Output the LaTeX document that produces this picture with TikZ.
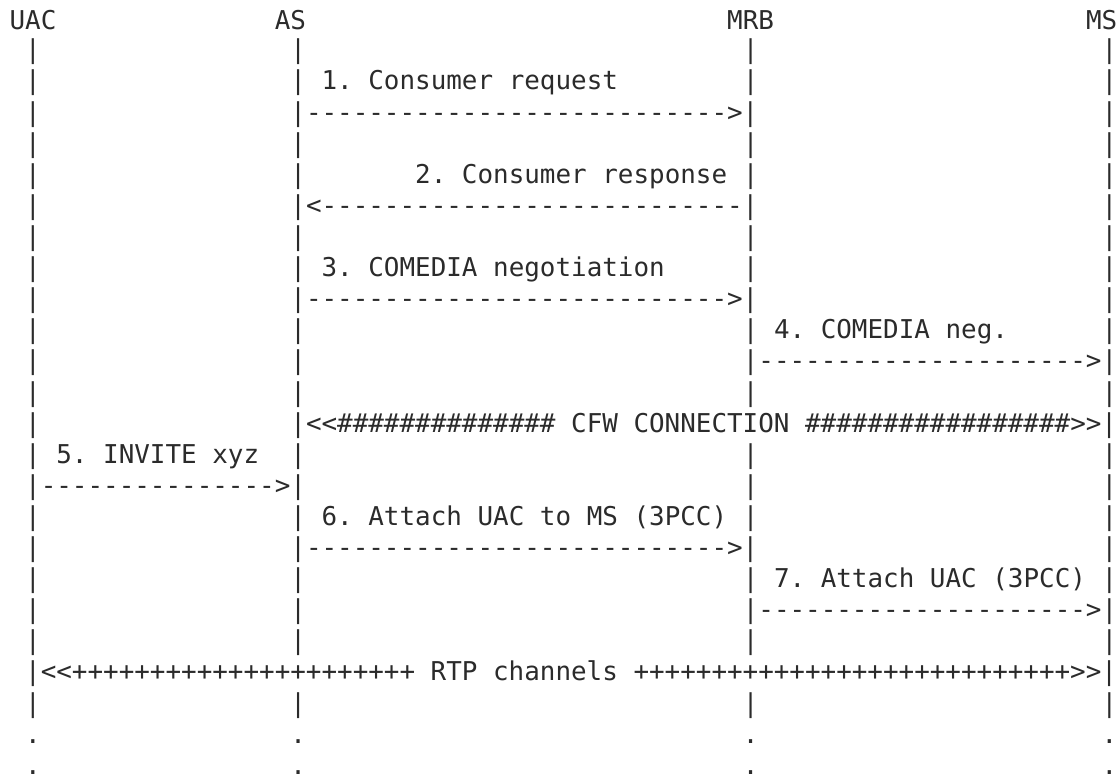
\documentclass[tikz,border=0pt]{standalone}
\usepackage{fontspec}
\setmonofont{DejaVu Sans Mono}
\definecolor{ink}{HTML}{2B2B2B}

% character grid: cell width, left margin, baselines
\newcommand\cellw{15.6}
\newcommand\leftx{9.6}
\newcounter{piece}
\newcommand\reps[2]{\foreach \k in {1,...,#1}{#2}}
% place text #3 on row #1 starting at column #2
\newcommand\glyphs[3]{%
  \stepcounter{piece}%
  \pgfmathsetmacro\gx{\leftx+#2*\cellw}%
  \pgfmathsetmacro\gy{(#1==0)*30+(#1>0)*(90+(#1-2)*31.1)}%
  \edef\placepiece{\noexpand\node[txt] (p\arabic{piece}) at (\gx,\gy)}%
  \placepiece{#3};}
% lifeline bars on row #1 at the listed columns
\newcommand\bars[2]{\foreach \c in {#2}{\glyphs{#1}{\c}{|}}}
\newcommand\contdots[2]{\foreach \c in {#2}{\glyphs{#1}{\c}{.}}}

\begin{document}
\begin{tikzpicture}[x=1pt,y=-1pt,
  txt/.style={anchor=base west,inner sep=0pt,outer sep=0pt,
    font=\ttfamily\fontsize{25.91}{31}\selectfont,text=ink}]
\useasboundingbox (0,0) rectangle (1120,776);

% participants
\glyphs{0}{0}{UAC}
\glyphs{0}{17}{AS}
\glyphs{0}{46}{MRB}
\glyphs{0}{69}{MS}

\bars{1}{1,18,47,70}
% 1. AS -> MRB
\bars{2}{1,18,47,70}
\glyphs{2}{20}{1. Consumer request}
\bars{3}{1,70}
\glyphs{3}{18}{|\reps{27}{-}>|}
\bars{4}{1,18,47,70}
% 2. MRB -> AS
\bars{5}{1,18,47,70}
\glyphs{5}{26}{2. Consumer response}
\bars{6}{1,70}
\glyphs{6}{18}{|<\reps{27}{-}|}
\bars{7}{1,18,47,70}
% 3. AS -> MRB
\bars{8}{1,18,47,70}
\glyphs{8}{20}{3. COMEDIA negotiation}
\bars{9}{1,70}
\glyphs{9}{18}{|\reps{27}{-}>|}
% 4. MRB -> MS
\bars{10}{1,18,47,70}
\glyphs{10}{49}{4. COMEDIA neg.}
\bars{11}{1,18}
\glyphs{11}{47}{|\reps{21}{-}>|}
\bars{12}{1,18,47,70}
% control framework channel AS <-> MS
\bars{13}{1}
\glyphs{13}{18}{|<<\reps{14}{\#} CFW CONNECTION \reps{17}{\#}>>|}
% 5. UAC -> AS
\bars{14}{1,18,47,70}
\glyphs{14}{3}{5. INVITE xyz}
\bars{15}{47,70}
\glyphs{15}{1}{|\reps{15}{-}>|}
% 6. AS -> MRB
\bars{16}{1,18,47,70}
\glyphs{16}{20}{6. Attach UAC to MS (3PCC)}
\bars{17}{1,70}
\glyphs{17}{18}{|\reps{27}{-}>|}
% 7. MRB -> MS
\bars{18}{1,18,47,70}
\glyphs{18}{49}{7. Attach UAC (3PCC)}
\bars{19}{1,18}
\glyphs{19}{47}{|\reps{21}{-}>|}
\bars{20}{1,18,47,70}
% media path UAC <-> MS
\glyphs{21}{1}{|<<\reps{22}{+} RTP channels \reps{28}{+}>>|}
\bars{22}{1,18,47,70}
\contdots{23}{1,18,47,70}
\contdots{24}{1,18,47,70}
\end{tikzpicture}
\end{document}
